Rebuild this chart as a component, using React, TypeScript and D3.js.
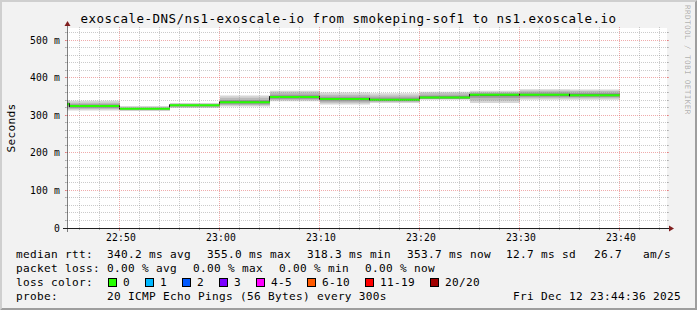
import React from "react";
import * as d3 from "d3";

const WIDTH = 697;
const HEIGHT = 310;

const title = "exoscale-DNS/ns1-exoscale-io from smokeping-sof1 to ns1.exoscale.io";
const yAxisTitle = "Seconds";
const watermark = "RRDTOOL / TOBI OETIKER";

// visible time window
const windowStart = "22:44:42";
const windowEnd = "23:44:42";
const yAxisMax = 533.33; // ms
const binMinutes = 5;

// 5-minute bins (start times)
const binStart = ["22:40", "22:45", "22:50", "22:55", "23:00", "23:05", "23:10", "23:15", "23:20", "23:25", "23:30", "23:35"];
// median rtt (ms)
const medianRtt = [330, 325, 318.3, 327, 335, 349, 344, 342, 348, 355, 355, 353.7];
// smoke bands: sorted pings pairs (ms)
const ping1Low = [313, 313, 312, 320, 324, 338, 329, 333, 342, 333, 342, 342];
const ping1High = [341, 339, 325, 333, 353, 366, 361, 359, 363, 366, 370, 369];
const ping3Low = [318, 317, 314, 322, 327, 341, 334, 336, 344, 340, 346, 346];
const ping3High = [337, 334, 322, 331, 347, 361, 355, 353, 359, 362, 366, 365];
const ping6Low = [323, 320, 316, 324, 330, 344, 338, 339, 345, 347, 350, 349];
const ping6High = [334, 330, 320, 329, 341, 355, 350, 348, 353, 359, 361, 360];
const ping9Low = [328, 323, 317, 326, 333, 347, 342, 340, 346, 352, 353, 352];
const ping9High = [332, 327, 319.5, 328, 337, 351, 346, 344, 350, 357, 357, 356];

const yMajorTicks = [0, 100, 200, 300, 400, 500];
const yTickLabels = ["0", "100 m", "200 m", "300 m", "400 m", "500 m"];
const xMajorTicks = ["22:50", "23:00", "23:10", "23:20", "23:30", "23:40"];

const legendRtt = ["median rtt:", "340.2 ms avg", "355.0 ms max", "318.3 ms min", "353.7 ms now", "12.7 ms sd", "26.7", "am/s"];
const legendLoss = ["packet loss:", "0.00 % avg", "0.00 % max", "0.00 % min", "0.00 % now"];
const lossTitle = "loss color:";
const lossLabels = ["0", "1", "2", "3", "4-5", "6-10", "11-19", "20/20"];
const lossColors = ["#26ff00", "#00b8ff", "#0059ff", "#7a00ff", "#ff00ff", "#ff5a00", "#ff0000", "#a10000"];
const probeTitle = "probe:";
const probeText = "20 ICMP Echo Pings (56 Bytes) every 300s";
const dateText = "Fri Dec 12 23:44:36 2025";

// layout
const rttCols = [16, 107, 207, 307, 407, 506, 594, 643];
const lossCols = [16, 107, 193, 279, 365];

const toMin = (s: string) => {
  const p = s.split(":").map(Number);
  return p[0] * 60 + p[1] + (p[2] || 0) / 60;
};
const fmtMin = (m: number) => {
  const h = Math.floor(m / 60);
  const mm = Math.round(m - h * 60);
  return `${String(h).padStart(2, "0")}:${String(mm).padStart(2, "0")}`;
};

const MONO = "'DejaVu Sans Mono', monospace";
const F_LEGEND = 11.1;
const F_TITLE = 12.5;
const F_AXIS = 9.72;
const F_WATER = 7.64;
const ls = (size: number, adv: number) => adv - size * 0.60205;

export default function App() {
  const X0 = 67, X1 = 667, Y0 = 228, Y1 = 28;
  const t0 = toMin(windowStart), t1 = toMin(windowEnd);
  const x = d3.scaleLinear().domain([t0, t1]).range([X0, X1]);
  const y = d3.scaleLinear().domain([0, yAxisMax]).range([Y0, Y1]);
  const py = (v: number) => Math.floor(y(v)) + 0.5;
  const px = (t: number) => Math.floor(x(t)) + 0.5;

  const starts = binStart.map(toMin);
  const last = starts.length - 1;
  type P = { t: number; i: number };
  const pts: P[] = starts.map((s, i) => ({ t: Math.max(s, t0), i }));
  pts.push({ t: starts[last] + binMinutes, i: last });

  const band = (lo: number[], hi: number[]) =>
    d3.area<P>().x((d) => x(d.t)).y0((d) => y(lo[d.i])).y1((d) => y(hi[d.i])).curve(d3.curveStepAfter)(pts) || "";

  const bands = [
    { lo: ping1Low, hi: ping1High, c: "#d6d6d6" },
    { lo: ping3Low, hi: ping3High, c: "#bababa" },
    { lo: ping6Low, hi: ping6High, c: "#999999" },
    { lo: ping9Low, hi: ping9High, c: "#555555" },
  ];

  const majorX = xMajorTicks.map(toMin);
  const minorX = d3.range(Math.ceil(t0 / 2) * 2, t1, 2).filter((m) => m % 10 !== 0);
  const minorY = d3.range(20, yAxisMax, 20).filter((v) => v % 100 !== 0);

  const gridMinor = "rgba(143,143,143,0.85)";
  const gridMajor = "rgba(222,79,79,0.6)";
  const mw = 0.55;
  const Mw = 0.8;
  const axisCol = "#1f1f1f";
  const arrowCol = "#801f1f";

  // loss legend positions
  let lx = 108;
  const lossItems = lossLabels.map((lab, i) => {
    const item = { lab, c: lossColors[i], bx: lx, tx: lx + 15 };
    lx = lx + 15 + lab.length * 7 + 15;
    return item;
  });

  const W = WIDTH, H = HEIGHT;
  const lineY = [258, 272, 286, 300];

  return (
    <svg width={W} height={H} style={{ display: "block", position: "absolute", left: 0, top: 0 }} xmlns="http://www.w3.org/2000/svg">
      <rect x={0} y={0} width={W} height={H} fill="#f2f2f2" />
      <path d={`M0,${H} L2,${H - 2} L2,2 L${W - 2},2 L${W},0 L0,0 Z`} fill="#cfcfcf" />
      <path d={`M2,${H - 2} L${W - 2},${H - 2} L${W - 2},2 L${W},0 L${W},${H} L0,${H} Z`} fill="#9e9e9e" />
      <rect x={X0} y={Y1} width={X1 - X0} height={Y0 - Y1} fill="#ffffff" />

      {/* smoke */}
      {bands.map((b, k) => (
        <path key={k} d={band(b.lo, b.hi)} fill={b.c} />
      ))}

      {/* median: green segments + dark step joints */}
      {starts.map((s, i) => (
        <line key={"g" + i} x1={x(Math.max(s, t0))} x2={x(s + binMinutes)} y1={y(medianRtt[i])} y2={y(medianRtt[i])} stroke="#26ff00" strokeWidth={2} />
      ))}
      {starts.slice(1).map((s, k) => (
        <line key={"j" + k} x1={px(s)} x2={px(s)} y1={y(medianRtt[k]) - 1} y2={y(medianRtt[k + 1]) + (medianRtt[k + 1] > medianRtt[k] ? -1 : 1)} stroke="#202020" strokeWidth={1} />
      ))}

      {/* grid */}
      {minorY.map((v) => (
        <g key={"my" + v}>
          <line x1={X0 - 2} x2={X1 + 2} y1={py(v)} y2={py(v)} stroke={gridMinor} strokeWidth={mw} strokeDasharray="1,1" />
          <line x1={X0 - 2} x2={X0} y1={py(v)} y2={py(v)} stroke={gridMinor} strokeWidth={mw} />
          <line x1={X1} x2={X1 + 2} y1={py(v)} y2={py(v)} stroke={gridMinor} strokeWidth={mw} />
        </g>
      ))}
      {minorX.map((m) => (
        <g key={"mx" + m}>
          <line x1={px(m)} x2={px(m)} y1={Y0 + 2} y2={Y1 - 2} stroke={gridMinor} strokeWidth={mw} strokeDasharray="1,1" />
          <line x1={px(m)} x2={px(m)} y1={Y0} y2={Y0 + 2} stroke={gridMinor} strokeWidth={mw} />
        </g>
      ))}
      {yMajorTicks.map((v) => (
        <g key={"My" + v}>
          <line x1={X0 - 2} x2={X1 + 2} y1={py(v)} y2={py(v)} stroke={gridMajor} strokeWidth={Mw} strokeDasharray="1,1" />
          <line x1={X0 - 2} x2={X0} y1={py(v)} y2={py(v)} stroke={gridMajor} strokeWidth={Mw} />
          <line x1={X1} x2={X1 + 2} y1={py(v)} y2={py(v)} stroke={gridMajor} strokeWidth={Mw} />
        </g>
      ))}
      {majorX.map((m) => (
        <g key={"Mx" + m}>
          <line x1={px(m)} x2={px(m)} y1={Y0 + 2} y2={Y1 - 2} stroke={gridMajor} strokeWidth={Mw} strokeDasharray="1,1" />
          <line x1={px(m)} x2={px(m)} y1={Y0} y2={Y0 + 3} stroke={gridMajor} strokeWidth={Mw} />
        </g>
      ))}

      {/* axes */}
      <line x1={X0 - 4} x2={X1 + 4} y1={Y0 + 0.5} y2={Y0 + 0.5} stroke={axisCol} strokeWidth={1} />
      <line x1={X0 + 0.5} x2={X0 + 0.5} y1={Y0 + 4} y2={Y1 - 4} stroke={axisCol} strokeWidth={0.8} opacity={0.7} />
      <path d={`M${X1 + 2},${Y0 - 3 + 0.5} L${X1 + 2},${Y0 + 3 + 0.5} L${X1 + 7},${Y0 + 0.5} Z`} fill={arrowCol} />
      <path d={`M${X0 - 3 + 0.5},${Y1 - 2} L${X0 + 3 + 0.5},${Y1 - 2} L${X0 + 0.5},${Y1 - 7} Z`} fill={arrowCol} />

      {/* axis labels */}
      <g fontFamily={MONO} fontSize={F_AXIS} letterSpacing={ls(F_AXIS, 6)} fill="#000">
        {yMajorTicks.map((v, i) => (
          <text key={"yl" + v} x={X0 - 7} y={py(v) + 3.5} textAnchor="end">{yTickLabels[i]}</text>
        ))}
        {majorX.map((m) => (
          <text key={"xl" + m} x={x(m) + 1} y={241} textAnchor="middle">{fmtMin(m)}</text>
        ))}
      </g>

      <text transform={`translate(14.8,${(Y0 + Y1) / 2}) rotate(-90)`} textAnchor="middle" fontFamily={MONO} fontSize={F_LEGEND} letterSpacing={ls(F_LEGEND, 7)} fill="#000">{yAxisTitle}</text>

      <text x={W / 2} y={22.5} textAnchor="middle" fontFamily={MONO} fontSize={F_TITLE} letterSpacing={ls(F_TITLE, 8)} fill="#000">{title}</text>

      <text transform={`translate(685,5) rotate(90)`} fontFamily={MONO} fontSize={F_WATER} letterSpacing={ls(F_WATER, 5)} fill="rgba(0,0,0,0.3)">{watermark}</text>

      {/* legend */}
      <g fontFamily={MONO} fontSize={F_LEGEND} letterSpacing={ls(F_LEGEND, 7)} fill="#000">
        {legendRtt.map((s, i) => (
          <text key={"r" + i} x={rttCols[i]} y={lineY[0]} xmlSpace="preserve">{s}</text>
        ))}
        {legendLoss.map((s, i) => (
          <text key={"l" + i} x={lossCols[i]} y={lineY[1]} xmlSpace="preserve">{s}</text>
        ))}
        <text x={16} y={lineY[2]}>{lossTitle}</text>
        {lossItems.map((it, i) => (
          <g key={"lc" + i}>
            <rect x={it.bx + 0.5} y={lineY[2] - 7.5} width={8} height={8} fill={it.c} stroke="#000" strokeWidth={1} />
            <text x={it.tx} y={lineY[2]}>{it.lab}</text>
          </g>
        ))}
        <text x={16} y={lineY[3]}>{probeTitle}</text>
        <text x={107} y={lineY[3]}>{probeText}</text>
        <text x={681} y={lineY[3]} textAnchor="end">{dateText}</text>
      </g>
    </svg>
  );
}
